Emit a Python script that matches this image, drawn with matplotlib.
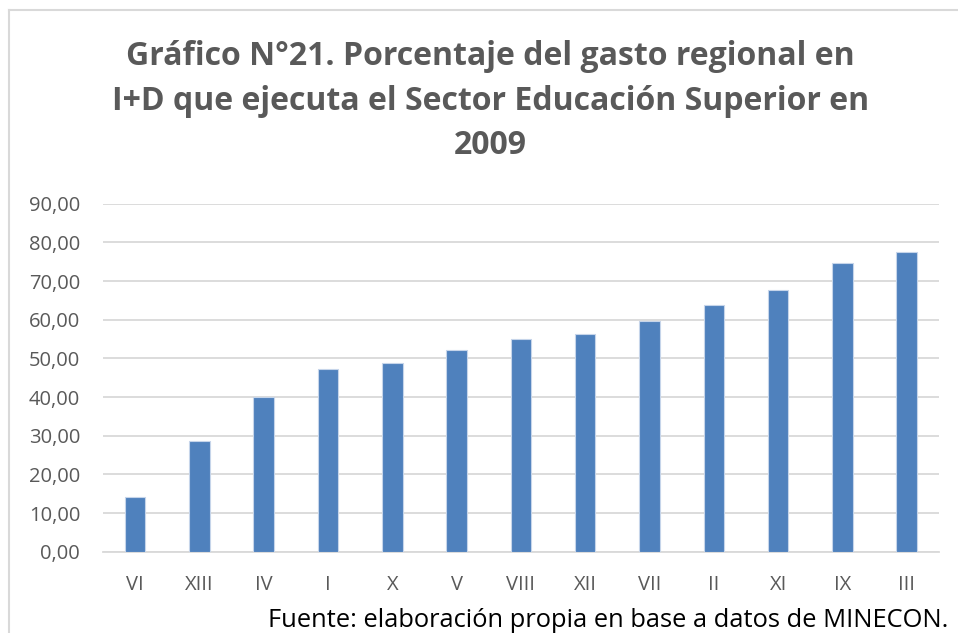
import matplotlib.pyplot as plt
from matplotlib.lines import Line2D

# data
regions = ["VI", "XIII", "IV", "I", "X", "V", "VIII", "XII", "VII", "II", "XI", "IX", "III"]
values = [14.1, 28.7, 40.1, 47.3, 48.8, 52.2, 55.0, 56.2, 59.7, 63.7, 67.6, 74.7, 77.5]
yticks = [0, 10, 20, 30, 40, 50, 60, 70, 80, 90]

title = ("Gráfico N°21. Porcentaje del gasto regional en\n"
         "I+D que ejecuta el Sector Educación Superior en\n"
         "2009")
source = "Fuente: elaboración propia en base a datos de MINECON."

plt.rcParams["font.family"] = ["Open Sans", "DejaVu Sans"]

fig = plt.figure(figsize=(9.58, 6.33), dpi=100)
ax = fig.add_axes([0.1075, 0.1284, 0.8725, 0.5496])

x = range(len(regions))
ax.bar(x, values, width=0.32, color="#4F81BD", edgecolor="#C6D5EA", linewidth=0.8, zorder=3)

ax.set_xlim(-0.5, len(regions) - 0.5)
ax.set_ylim(0, 90)
ax.set_yticks(yticks)
ax.set_yticklabels([f"{v:.2f}".replace(".", ",") for v in yticks])
ax.set_xticks(list(x))
ax.set_xticklabels(regions)
ax.tick_params(axis="both", length=0, labelsize=14.5, colors="#595959")
ax.tick_params(axis="x", pad=17)
ax.tick_params(axis="y", pad=16.5)

ax.grid(axis="y", color="#D9D9D9", linewidth=1.3, zorder=0)
for s in ["top", "right", "left"]:
    ax.spines[s].set_visible(False)
ax.spines["bottom"].set_color("#D9D9D9")
ax.spines["bottom"].set_linewidth(1.3)

fig.text(0.512, 0.8404, title, ha="center", va="center", fontsize=23, fontweight="bold",
         color="#595959", linespacing=1.45)
fig.text(0.99, 0.02, source, ha="right", va="center", fontsize=18.4, color="black")

# outer chart frame (top and left edges visible)
fig.add_artist(Line2D([0.0094, 0.9995], [0.984, 0.984], color="#D9D9D9", linewidth=1.5,
                      transform=fig.transFigure))
fig.add_artist(Line2D([0.0094, 0.0094], [0.0, 0.984], color="#D9D9D9", linewidth=1.5,
                      transform=fig.transFigure))

fig.savefig("out.png", dpi=100)
